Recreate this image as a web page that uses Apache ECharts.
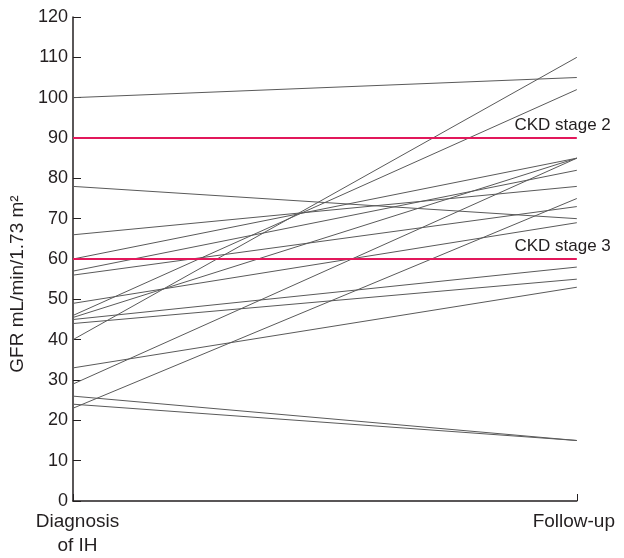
<!DOCTYPE html>
<html>
<head>
<meta charset="utf-8">
<script src="https://cdn.jsdelivr.net/npm/echarts@6/dist/echarts.min.js"></script>
<style>
html,body{margin:0;padding:0;background:#fff;}
#chart{width:624px;height:558px;}
</style>
</head>
<body>
<div id="chart"></div>
<script>
// Time points
const categories = ['Diagnosis\nof IH', 'Follow-up'];
// GFR at diagnosis and at follow-up, one entry per patient
const atDiagnosis = [100, 78, 66, 60, 57, 56, 49, 46, 45.5, 45, 44, 40, 33, 29, 26, 24, 23];
const atFollowUp  = [105, 70, 78, 85, 82, 73, 69, 102, 85, 58, 55, 110, 53, 85, 15, 15, 75];
// Reference thresholds
const thresholds = [
  { name: 'CKD stage 2', value: 90 },
  { name: 'CKD stage 3', value: 60 }
];
const yTicks = { min: 0, max: 120, interval: 10 };

const FONT = '"Liberation Sans", Arial, sans-serif';
const TXT = '#231f20';

const series = atDiagnosis.map((v, i) => ({
  type: 'line',
  data: [v, atFollowUp[i]],
  symbol: 'none',
  silent: true,
  lineStyle: { color: '#5a5a5a', width: 1 },
  z: 2
}));

series.push({
  type: 'line',
  data: [],
  silent: true,
  markLine: {
    symbol: 'none',
    silent: true,
    lineStyle: { color: '#e2185b', width: 2, type: 'solid' },
    label: {
      show: true,
      position: 'insideEndTop',
      formatter: p => p.name,
      color: TXT,
      fontFamily: FONT,
      fontSize: 17,
      distance: [-34, 4]
    },
    data: thresholds.map(t => ({ name: t.name, yAxis: t.value }))
  },
  z: 3
});

const chart = echarts.init(document.getElementById('chart'));
chart.setOption({
  animation: false,
  backgroundColor: '#fff',
  grid: { left: 73, right: 46, top: 17, bottom: 54 },
  xAxis: {
    type: 'category',
    data: categories,
    boundaryGap: false,
    axisLine: { lineStyle: { color: TXT, width: 1.5 } },
    axisTick: { show: true, inside: true, length: 7, lineStyle: { color: TXT } },
    axisLabel: {
      color: TXT, fontFamily: FONT, fontSize: 19, margin: 9, lineHeight: 24,
      formatter: (val, idx) => val.split('\n').map(s => (idx === 0 ? '{l|' : '{r|') + s + '}').join('\n'),
      rich: {
        l: { color: TXT, fontFamily: FONT, fontSize: 19, lineHeight: 24, padding: [0, 0, 0, 9] },
        r: { color: TXT, fontFamily: FONT, fontSize: 19, lineHeight: 24, padding: [0, 6, 0, 0] }
      }
    }
  },
  yAxis: {
    type: 'value',
    min: yTicks.min,
    max: yTicks.max,
    interval: yTicks.interval,
    name: 'GFR mL/min/1.73 m²',
    nameLocation: 'middle',
    nameGap: 45,
    nameTextStyle: { color: TXT, fontFamily: FONT, fontSize: 19, padding: [0, 50, 0, 0] },
    axisLine: { show: true, lineStyle: { color: TXT, width: 1.5 } },
    axisTick: { show: true, inside: true, length: 8, lineStyle: { color: TXT } },
    axisLabel: { color: TXT, fontFamily: FONT, fontSize: 18, margin: 5 },
    splitLine: { show: false }
  },
  series: series
});
</script>
</body>
</html>
